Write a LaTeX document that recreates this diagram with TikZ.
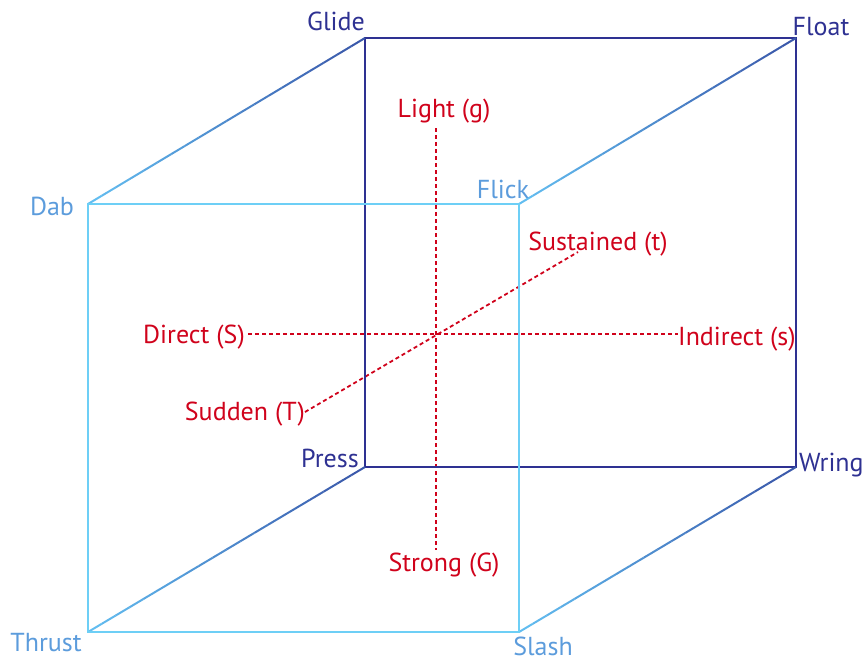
\documentclass[tikz,border=0pt]{standalone}
\usepackage{fontspec}
\setmainfont{PT Sans}
\usetikzlibrary{calc}
\definecolor{navy}{HTML}{2E3192}
\definecolor{front}{HTML}{6DCFF6}
\definecolor{frontlab}{HTML}{5C9CDC}
\definecolor{edgeA}{HTML}{62BDF0}
\definecolor{edgeB}{HTML}{3A58AA}
\definecolor{redlab}{HTML}{D0021B}
\newcommand\cubeedge[2]{%
  \foreach \i in {0,...,19}{%
    \pgfmathtruncatemacro\p{100-100*\i/19}%
    \draw[edgeline, color=edgeA!\p!edgeB] ($(#1)!\i/20!(#2)$) -- ($(#1)!\i/20+0.05!(#2)$);
  }%
}
\begin{document}
\begin{tikzpicture}[x=1pt,y=-1pt,
  lab/.style={inner sep=0pt, anchor=base, font=\fontsize{26}{30}\selectfont},
  backline/.style={draw=navy, line width=2pt},
  frontline/.style={draw=front, line width=2pt},
  edgeline/.style={line width=2pt},
  redline/.style={draw=redlab, line width=1.8pt, dash pattern=on 4pt off 3pt}]
\useasboundingbox (0,0) rectangle (867,661);
% cube corners
\coordinate (G) at (365,38);
\coordinate (F) at (796,38);
\coordinate (W) at (796,467);
\coordinate (P) at (365,467);
\coordinate (D) at (88,204);
\coordinate (K) at (519,204);
\coordinate (S) at (519,632);
\coordinate (T) at (88,632);
% red axis ends
\coordinate (lt) at (436,128);
\coordinate (sg) at (436,550);
\coordinate (dr) at (248,334);
\coordinate (ind) at (678,334);
\coordinate (sd) at (305,412);
\coordinate (su) at (578,252);
% red axes
\draw[redline] (lt) -- (sg);
\draw[redline] (dr) -- (ind);
\draw[redline] (sd) -- (su);
% back face
\draw[backline] (G) -- (F) -- (W) -- (P) -- cycle;
% connecting edges
\cubeedge{D}{G}
\cubeedge{K}{F}
\cubeedge{T}{P}
\cubeedge{S}{W}
% front face
\draw[frontline] (D) -- (K) -- (S) -- (T) -- cycle;
% labels
\node[lab, text=navy] (glide) at (336,31) {Glide};
\node[lab, text=navy] (float) at (821,36) {Float};
\node[lab, text=navy] (press) at (330,467) {Press};
\node[lab, text=navy, anchor=base west] (wring) at (799,471) {Wring};
\node[lab, text=frontlab] (dab) at (52,215) {Dab};
\node[lab, text=frontlab] (flick) at (503,198) {Flick};
\node[lab, text=frontlab] (thrust) at (46,651) {Thrust};
\node[lab, text=frontlab] (slash) at (543,655) {Slash};
\node[lab, text=redlab] (light) at (444,117) {Light (g)};
\node[lab, text=redlab] (strong) at (444,571) {Strong (G)};
\node[lab, text=redlab, anchor=base east] (direct) at (245,343) {Direct (S)};
\node[lab, text=redlab, anchor=base west] (indirect) at (678,345) {Indirect (s)};
\node[lab, text=redlab, anchor=base east] (sudden) at (305,420) {Sudden (T)};
\node[lab, text=redlab] (sustained) at (598,250) {Sustained (t)};
\end{tikzpicture}
\end{document}
